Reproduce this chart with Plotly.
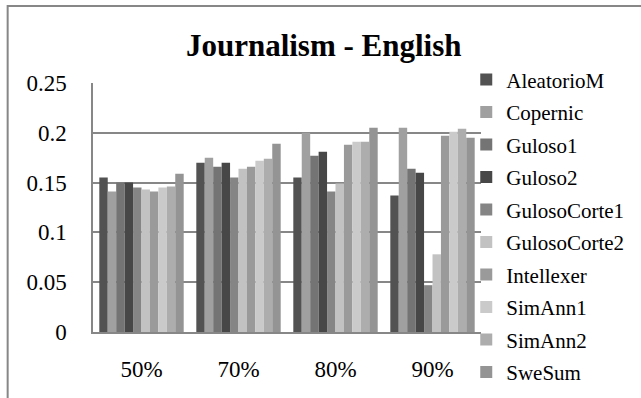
import plotly.graph_objects as go

categories = ["50%", "70%", "80%", "90%"]
series_names = ["AleatorioM", "Copernic", "Guloso1", "Guloso2", "GulosoCorte1",
                "GulosoCorte2", "Intellexer", "SimAnn1", "SimAnn2", "SweSum"]

aleatoriom = [0.155, 0.170, 0.155, 0.137]
copernic = [0.141, 0.175, 0.200, 0.205]
guloso1 = [0.150, 0.166, 0.177, 0.164]
guloso2 = [0.150, 0.170, 0.181, 0.160]
gulosocorte1 = [0.145, 0.155, 0.141, 0.047]
gulosocorte2 = [0.143, 0.164, 0.149, 0.078]
intellexer = [0.141, 0.166, 0.188, 0.197]
simann1 = [0.145, 0.172, 0.191, 0.201]
simann2 = [0.146, 0.174, 0.191, 0.204]
swesum = [0.159, 0.189, 0.205, 0.195]

values = [aleatoriom, copernic, guloso1, guloso2, gulosocorte1,
          gulosocorte2, intellexer, simann1, simann2, swesum]
colors = ["#525252", "#a0a0a0", "#747474", "#474747", "#858585",
          "#c2c2c2", "#9a9a9a", "#cacaca", "#adadad", "#949494"]

y_ticks = [0, 0.05, 0.1, 0.15, 0.2, 0.25]

FONT = "Liberation Serif, Times New Roman, serif"
GRID = "#878787"

fig = go.Figure()
for name, vals, col in zip(series_names, values, colors):
    fig.add_trace(go.Bar(
        name=name, x=categories, y=vals,
        marker=dict(color=col, line=dict(width=0)),
        legendgroup=name,
    ))

fig.update_layout(
    width=641, height=398,
    margin=dict(l=93, r=157, t=83, b=66),
    paper_bgcolor="white", plot_bgcolor="white",
    barmode="group", bargap=0.13, bargroupgap=0,
    font=dict(family=FONT, color="black"),
    title=dict(text="<b>Journalism - English</b>", x=0.5946, xref="paper",
               xanchor="center", y=0.887, yanchor="middle",
               font=dict(family=FONT, size=31, color="black")),
    legend=dict(x=0.962, xanchor="left", y=1.095, yanchor="top",
                font=dict(family=FONT, size=21, color="black"),
                tracegroupgap=2.2, bgcolor="rgba(0,0,0,0)",
                itemclick=False, maxheight=600),
    showlegend=True,
)
fig.update_yaxes(range=[0, 0.25], tickvals=y_ticks, showgrid=True, gridcolor=GRID,
                 gridwidth=1.5, showline=True, linecolor=GRID, linewidth=1.5,
                 ticks="", ticklabelstandoff=20, zeroline=False,
                 tickfont=dict(family=FONT, size=23, color="black"))
fig.update_xaxes(showgrid=False, showline=True, linecolor=GRID, linewidth=1.5,
                 ticks="", ticklabelstandoff=16,
                 tickfont=dict(family=FONT, size=23, color="black"))

# outer chart frame
fig.add_shape(type="rect", xref="paper", yref="paper",
              x0=(7 - 93) / 391, x1=(660 - 93) / 391,
              y0=(332 - 420) / 249, y1=(332 - 6) / 249,
              line=dict(color=GRID, width=2), fillcolor="rgba(0,0,0,0)", layer="below")

fig.write_html("out.html")
